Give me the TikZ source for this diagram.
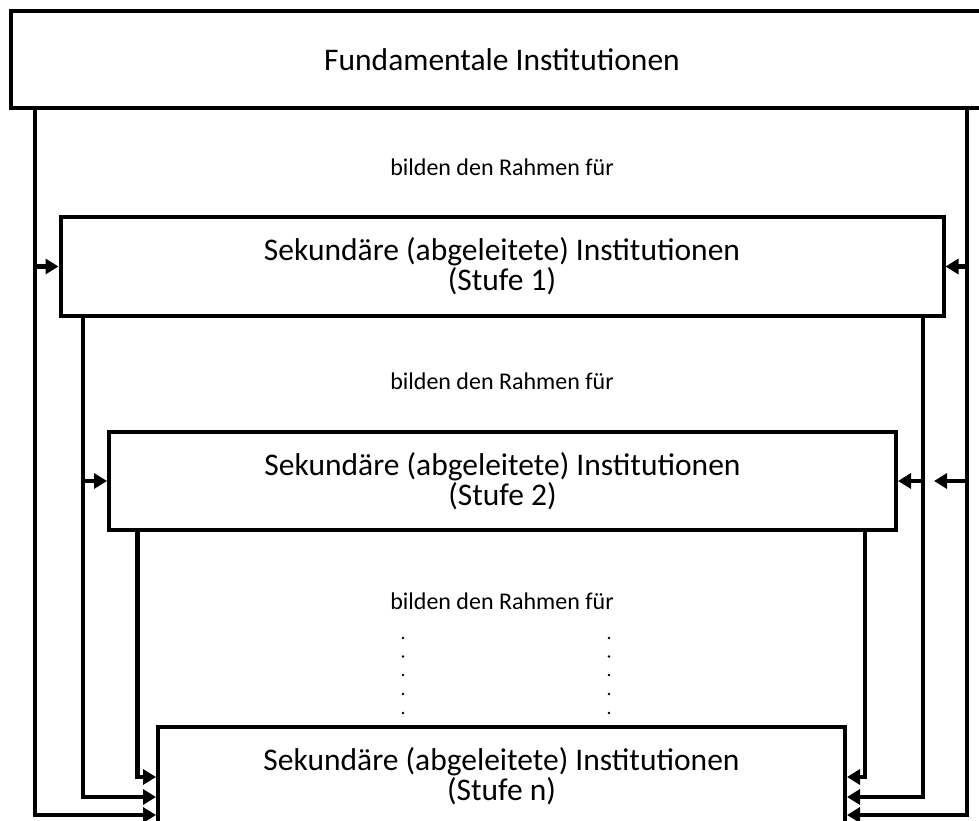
\documentclass[tikz,border=0pt]{standalone}
\usepackage{fontspec}
\setmainfont{Carlito}
\usetikzlibrary{arrows.meta}

\tikzset{
  instbox/.style={draw=black, line width=4pt, fill=white, align=center,
    inner sep=0pt, font=\fontsize{31.5}{30}\selectfont},
  conn/.style={draw=black, line width=4.5pt, line join=miter},
  arr/.style={-{Triangle[length=13pt,width=15pt]}},
  frame/.style={font=\fontsize{24}{24}\selectfont},
  dotmark/.style={fill=black}
}

\begin{document}
\begin{tikzpicture}[x=1pt, y=-1pt]
  % page area
  \fill[white] (0,0) rectangle (979,821);
  \useasboundingbox (0,0) rectangle (979,821);

  % institution boxes
  \node[instbox, minimum width=982pt, minimum height=97pt] (top) at (502,60) {Fundamentale Institutionen};
  \node[instbox, minimum width=883pt, minimum height=99pt] (s1) at (502,266.5)
    {Sekundäre (abgeleitete) Institutionen\\(Stufe 1)};
  \node[instbox, minimum width=787pt, minimum height=98pt] (s2) at (502.5,481)
    {Sekundäre (abgeleitete) Institutionen\\(Stufe 2)};
  \node[instbox, minimum width=687pt, minimum height=98pt] (sn) at (501.5,776)
    {Sekundäre (abgeleitete) Institutionen\\(Stufe n)};

  % captions between the levels
  \node[frame] (f1) at (502,167) {bilden den Rahmen für};
  \node[frame] (f2) at (502,381) {bilden den Rahmen für};
  \node[frame] (f3) at (502,601) {bilden den Rahmen für};

  % vertical ellipsis
  \foreach \yy in {638,656.5,675,694,713}{
    \fill[dotmark] (403,\yy) circle (1.3pt);
    \fill[dotmark] (609,\yy) circle (1.3pt);
  }

  % rail columns
  \coordinate (rL1) at (35,0);
  \coordinate (rL2) at (83,0);
  \coordinate (rL3) at (137.5,0);
  \coordinate (rR3) at (865,0);
  \coordinate (rR2) at (923,0);
  \coordinate (rR1) at (967,0);
  \coordinate (stray) at (934,481);

  % left rails
  \draw[conn, arr] (top.south -| rL1) |- ([yshift=-39pt]sn.west);
  \draw[conn, arr] (rL1 |- s1.west) -- (s1.west);
  \draw[conn, arr] (s1.south -| rL2) |- ([yshift=-21pt]sn.west);
  \draw[conn, arr] (rL2 |- s2.west) -- (s2.west);
  \draw[conn, arr] (s2.south -| rL3) |- ([yshift=-1pt]sn.west);

  % right rails
  \draw[conn, arr] (top.south -| rR1) |- ([yshift=-39pt]sn.east);
  \draw[conn, arr] (rR1 |- s1.east) -- (s1.east);
  \draw[conn, arr] (rR1 |- stray) -- (stray);
  \draw[conn, arr] (s1.south -| rR2) |- ([yshift=-21pt]sn.east);
  \draw[conn, arr] (rR2 |- s2.east) -- (s2.east);
  \draw[conn, arr] (s2.south -| rR3) |- ([yshift=-1pt]sn.east);
\end{tikzpicture}
\end{document}
